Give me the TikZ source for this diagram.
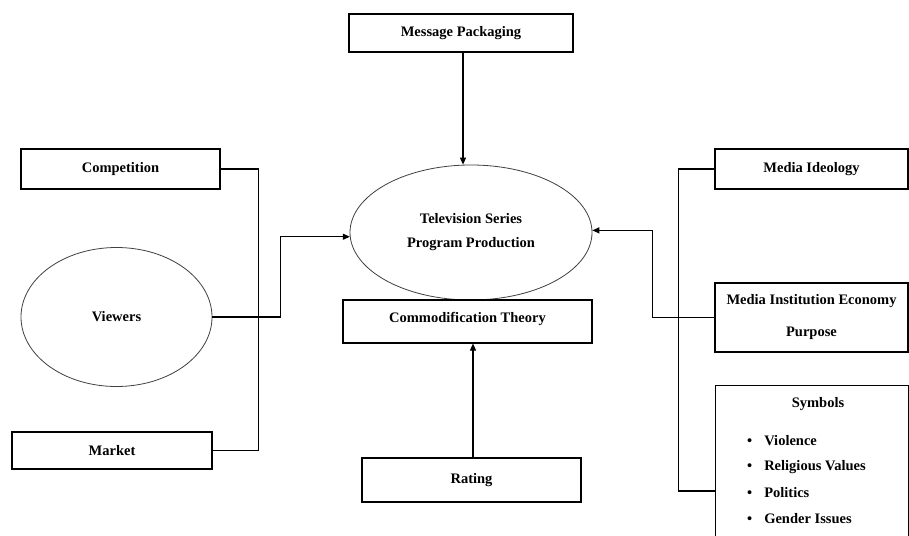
\documentclass[tikz,border=0pt]{standalone}
\usepackage{fontspec}
\setmainfont{Liberation Serif}
\usetikzlibrary{arrows.meta,shapes.geometric,calc}
\begin{document}
\begin{tikzpicture}[x=1pt,y=-1pt,
  every node/.style={font=\fontsize{14.5}{17}\selectfont\bfseries, inner sep=0pt},
  box/.style={draw, line width=1.1pt, rectangle},
  oval/.style={draw, line width=0.8pt, ellipse, draw=black!75},
  conn/.style={line width=1.1pt},
  arr/.style={conn, -{Triangle[length=7pt,width=6pt]}},
  txt/.style={font=\fontsize{14.5}{17}\selectfont\bfseries, inner sep=0pt}
]
\clip (0,0) rectangle (909,535);
\fill[white] (0,0) rectangle (909,535);
% left
\node[box, minimum width=199, minimum height=40] (comp) at (120.5,169) {Competition};
\node[box, minimum width=200, minimum height=37] (mk) at (112,450.5) {Market};
\node[oval, minimum width=191, minimum height=139] (vw) at (116.5,317) {Viewers};
% centre
\node[box, minimum width=224, minimum height=38] (mp) at (461,33) {Message Packaging};
\node[oval, minimum width=242, minimum height=135, align=center, font=\fontsize{14.5}{24}\selectfont\bfseries] (tv) at (471,232.5) {Television Series\\Program Production};
\node[box, minimum width=249, minimum height=43] (ct) at (467.5,321.5) {};
\node[txt] at (467.5,319) {Commodification Theory};
\node[box, minimum width=219, minimum height=44] (rt) at (471.5,480) {Rating};
% right
\node[box, minimum width=193, minimum height=40] (mi) at (811.5,169) {Media Ideology};
\node[box, minimum width=193, minimum height=69, align=center, font=\fontsize{14.5}{32}\selectfont\bfseries] (mie) at (811.5,317.5) {Media Institution Economy\\Purpose};
\node[box, anchor=north west, minimum width=193, minimum height=180] (sym) at (715,385) {};
\node[txt] (symt) at (818,404) {Symbols};
\node[txt, anchor=west] (b1) at (747,441) {\textbullet\hspace{12pt}Violence};
\node[txt, anchor=west] (b2) at (747,467) {\textbullet\hspace{12pt}Religious Values};
\node[txt, anchor=west] (b3) at (747,493) {\textbullet\hspace{12pt}Politics};
\node[txt, anchor=west] (b4) at (747,519) {\textbullet\hspace{12pt}Gender Issues};
% connectors
\coordinate (mpa) at ($(mp.south)+(2,0)$);
\draw[arr] (mpa) -- (mpa |- tv.north);
\draw[arr] ($(rt.north)+(1.5,0)$) -- ($(ct.south)+(5.5,0)$);
\draw[conn] (comp.east) -- ++(38,0) |- (mk.east);
\draw[arr] (vw.east) -- ++(68,0) |- (tv.182.5);
\draw[conn] (mi.west) -- ++(-36,0) |- ($(sym.north west)+(0,106)$);
\draw[arr] (mie.west) -- ++(-62,0) |- (tv.1.7);
\end{tikzpicture}
\end{document}
